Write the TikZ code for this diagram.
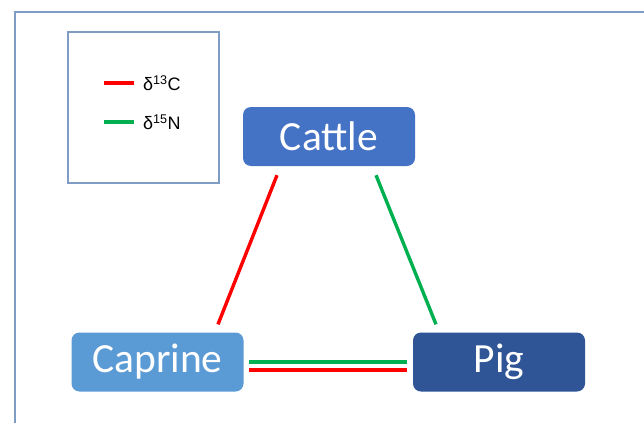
\documentclass[tikz,border=0pt]{standalone}
\usepackage{fontspec}
\setmainfont{Liberation Sans}
\newfontfamily\boxfont{Carlito}
\usetikzlibrary{calc}
\definecolor{framec}{HTML}{7F9CC4}
\definecolor{cattlec}{HTML}{4472C4}
\definecolor{caprinec}{HTML}{5B9BD5}
\definecolor{pigc}{HTML}{2F5597}
\definecolor{redc}{HTML}{FF0000}
\definecolor{greenc}{HTML}{00B050}
\tikzset{
  animal/.style={rectangle, rounded corners=8pt, minimum width=172pt, minimum height=59pt,
    inner sep=0pt, text=white, font=\boxfont\fontsize{41.5}{46}\selectfont},
  redline/.style={draw=redc, line width=3.4pt},
  greenline/.style={draw=greenc, line width=3.4pt},
  legtext/.style={anchor=west, inner sep=0pt, font=\fontsize{18}{20}\selectfont},
}
\begin{document}
\begin{tikzpicture}[x=1pt,y=-1pt]
\useasboundingbox (0,0) rectangle (644,423);
\fill[white] (0,0) rectangle (644,423);
% outer frame
\draw[framec, line width=1.2pt] (15,423) -- (15,12) -- (644,12);
% legend
\node[draw=framec, line width=1.2pt, minimum width=151pt, minimum height=151pt, inner sep=0pt] (legend) at (143.5,107.5) {};
\node[legtext] (legC) at (143,83) {δ\textsuperscript{13}C};
\node[legtext] (legN) at (143,122) {δ\textsuperscript{15}N};
\coordinate (lrA) at (104,83); \coordinate (lrB) at (134,83);
\coordinate (lgA) at (104,122); \coordinate (lgB) at (134,122);
\draw[redline] (lrA) -- (lrB);
\draw[greenline] (lgA) -- (lgB);
% nodes
\node[animal, fill=cattlec] (cattle) at (329,136.5) {Cattle};
\node[animal, fill=caprinec] (caprine) at (157.5,362) {Caprine};
\node[animal, fill=pigc] (pig) at (499,362) {Pig};
% connectors
\draw[redline] ([xshift=-52pt,yshift=-9pt]cattle.south) -- ([xshift=60.5pt,yshift=8pt]caprine.north);
\draw[greenline] ([xshift=47pt,yshift=-9pt]cattle.south) -- ([xshift=-63pt,yshift=8pt]pig.north);
\draw[greenline] ([xshift=5pt]caprine.east) -- ([xshift=-6pt]pig.west);
\draw[redline] ([xshift=5pt,yshift=-8pt]caprine.east) -- ([xshift=-6pt,yshift=-8pt]pig.west);
\end{tikzpicture}
\end{document}
